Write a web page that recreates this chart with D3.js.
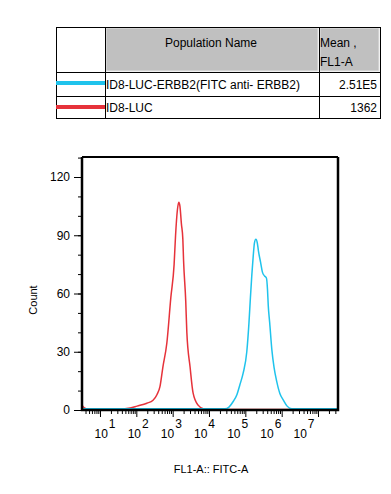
<!DOCTYPE html>
<html><head><meta charset="utf-8">
<script src="https://cdn.jsdelivr.net/npm/d3@7"></script>
<style>
body{margin:0;background:#fff}
svg{display:block;font-family:"Liberation Sans",Arial,sans-serif}
</style>
</head><body>
<svg id="chart" width="391" height="494"></svg>
<script>
// ---- data ----
const populations = ["ID8-LUC-ERBB2(FITC anti- ERBB2)", "ID8-LUC"];
const meanFL1 = ["2.51E5", "1362"];
const seriesColors = ["#1fc3ec", "#e6323a"];
const xTickExponents = [1, 2, 3, 4, 5, 6, 7];
const yTicks = [0, 30, 60, 90, 120];
const yMinorTicks = [0, 10, 20, 30, 40, 50, 60, 70, 80, 90, 100, 110, 120, 130];

// log10(FL1-A) and counts, ID8-LUC (red)
const redExp   = [0.505, 0.56, 0.67, 1.55, 1.83, 2.02, 2.29, 2.46, 2.57, 2.65, 2.73, 2.84, 2.95, 3.04, 3.08, 3.13, 3.17, 3.20, 3.24, 3.28, 3.30, 3.36, 3.39, 3.48, 3.56, 3.70, 3.84, 4.03, 7.55];
const redCount = [2.5,   1.2,  0.4,  0.4,  1.0,  2.0,  3.5,  5.0,  8.0,  12,   22,   34.5, 58,   75,   90,   103,  107,  105,  96,   88,   77,   56,   40,   22,   9,    2.5,  0.7,  0.3,  0.3];

// log10(FL1-A) and counts, ID8-LUC-ERBB2 (cyan)
const cyanExp   = [0.505, 4.44, 4.55, 4.67, 4.77, 4.85, 4.94, 5.04, 5.10, 5.14, 5.18, 5.22, 5.25, 5.29, 5.33, 5.36, 5.42, 5.47, 5.53, 5.58, 5.61, 5.63, 5.67, 5.73, 5.79, 5.86, 5.95, 6.05, 6.15, 6.28, 7.55];
const cyanCount = [0.6,   0.6,  1.5,  4.5,  8,    13,   19,   30,   45,   58,   70,   80,   86,   88,   86,   82,   76,   71,   69,   68,   62,   54,   45,   31,   22,   15,   8.5,  5,    2,    0.6,  0.6];

// ---- layout ----
const svg = d3.select("#chart");
const plot = {left: 82, right: 338, top: 157, bottom: 410};

const x = d3.scaleLog().domain([Math.pow(10, 0.505), Math.pow(10, 7.55)]).range([plot.left, plot.right]);
const y = d3.scaleLinear().domain([0, 120]).range([plot.bottom, 177]);
const labelX = d3.scaleLog().domain([10, 1e7]).range([101, 300]);

// ---- table ----
const tbl = {x0: 56, x1: 105, x2: 319, x3: 380, y0: 27, y1: 72, y2: 96, y3: 118};
const tg = svg.append("g");
tg.append("rect").attr("x", tbl.x1 + 1).attr("y", tbl.y0 + 1).attr("width", tbl.x2 - tbl.x1 - 2).attr("height", tbl.y1 - tbl.y0 - 2)
  .attr("fill", "#c0c0c0").attr("stroke", "#e4e4e4").attr("stroke-width", 1);
tg.append("rect").attr("x", tbl.x2 + 1).attr("y", tbl.y0 + 1).attr("width", tbl.x3 - tbl.x2 - 2).attr("height", tbl.y1 - tbl.y0 - 2)
  .attr("fill", "#c0c0c0").attr("stroke", "#e4e4e4").attr("stroke-width", 1);
tg.append("rect").attr("x", tbl.x0 + 0.5).attr("y", tbl.y0 + 0.5).attr("width", tbl.x3 - tbl.x0).attr("height", tbl.y3 - tbl.y0)
  .attr("fill", "none").attr("stroke", "#000").attr("stroke-width", 1);
[[tbl.x1, tbl.y0, tbl.x1, tbl.y3], [tbl.x2, tbl.y0, tbl.x2, tbl.y3], [tbl.x0, tbl.y1, tbl.x3, tbl.y1], [tbl.x0, tbl.y2, tbl.x3, tbl.y2]]
  .forEach(l => tg.append("line").attr("x1", l[0] + 0.5).attr("y1", l[1] + 0.5).attr("x2", l[2] + 0.5).attr("y2", l[3] + 0.5)
    .attr("stroke", "#000").attr("stroke-width", 1));
tg.append("text").attr("x", 211).attr("y", 47).attr("text-anchor", "middle").attr("font-size", 12).text("Population Name");
tg.append("text").attr("x", 320).attr("y", 47).attr("font-size", 12).text("Mean ,");
tg.append("text").attr("x", 320).attr("y", 66).attr("font-size", 12).text("FL1-A");
const rowBase = [88.5, 112];
const rowLineY = [83, 107];
populations.forEach((p, i) => {
  tg.append("line").attr("x1", tbl.x0).attr("x2", tbl.x1).attr("y1", rowLineY[i]).attr("y2", rowLineY[i])
    .attr("stroke", seriesColors[i]).attr("stroke-width", 4);
  tg.append("text").attr("x", tbl.x1 + 1).attr("y", rowBase[i]).attr("font-size", 12).text(p);
  tg.append("text").attr("x", tbl.x3 - 3).attr("y", rowBase[i]).attr("text-anchor", "end").attr("font-size", 12).text(meanFL1[i]);
});

// ---- curves ----
const lineGen = d3.line().x(d => x(Math.pow(10, d[0]))).y(d => y(d[1])).curve(d3.curveMonotoneX);
const series = [d3.zip(redExp, redCount), d3.zip(cyanExp, cyanCount)];
const seriesCol = [seriesColors[1], seriesColors[0]];
series.forEach((s, i) => {
  svg.append("path").attr("d", lineGen(s)).attr("fill", "none").attr("stroke", seriesCol[i]).attr("stroke-width", 1.5);
});

// ---- axes ----
svg.append("g").attr("transform", `translate(${plot.left},0)`)
  .call(d3.axisLeft(y).tickValues(yMinorTicks).tickSize(4).tickFormat(""))
  .call(g => g.select(".domain").remove());
svg.append("g").attr("transform", `translate(${plot.left},0)`)
  .call(d3.axisLeft(y).tickValues(yTicks).tickSize(8).tickPadding(4))
  .call(g => g.select(".domain").remove())
  .call(g => g.selectAll("text").attr("font-size", 12).attr("font-family", "Liberation Sans, Arial, sans-serif").attr("fill", "#000"));

const minorVals = [];
for (let k = 0; k <= 7; k++) for (let m = 2; m <= 9; m++) {
  const v = m * Math.pow(10, k);
  if (v >= x.domain()[0] && v <= x.domain()[1]) minorVals.push(v);
}
svg.append("g").attr("transform", `translate(0,${plot.bottom})`)
  .call(d3.axisBottom(x).tickValues(minorVals).tickSize(4).tickFormat(""))
  .call(g => g.select(".domain").remove());
svg.append("g").attr("transform", `translate(0,${plot.bottom})`)
  .call(d3.axisBottom(x).tickValues(xTickExponents.map(e => Math.pow(10, e))).tickSize(7).tickFormat(""))
  .call(g => g.select(".domain").remove());
const lab = svg.append("g");
xTickExponents.forEach(e => {
  const t = lab.append("text").attr("x", labelX(Math.pow(10, e)) - 6.5).attr("y", 437.5).attr("font-size", 12);
  t.append("tspan").text("10");
  t.append("tspan").attr("dx", 1).attr("dy", -9.5).text(String(e));
});

// frame
svg.append("path")
  .attr("d", `M${plot.left},${plot.top}V${plot.bottom}H${plot.right}V${plot.top}`)
  .attr("fill", "none").attr("stroke", "#000").attr("stroke-width", 2.5);
svg.append("line").attr("x1", plot.left).attr("x2", plot.right).attr("y1", plot.top).attr("y2", plot.top)
  .attr("stroke", "#000").attr("stroke-width", 2);

// axis titles
svg.append("text").attr("transform", "translate(37,300) rotate(-90)").attr("text-anchor", "middle").attr("font-size", 11).text("Count");
svg.append("text").attr("x", 211).attr("y", 473).attr("text-anchor", "middle").attr("font-size", 11).text("FL1-A:: FITC-A");
</script>
</body></html>
